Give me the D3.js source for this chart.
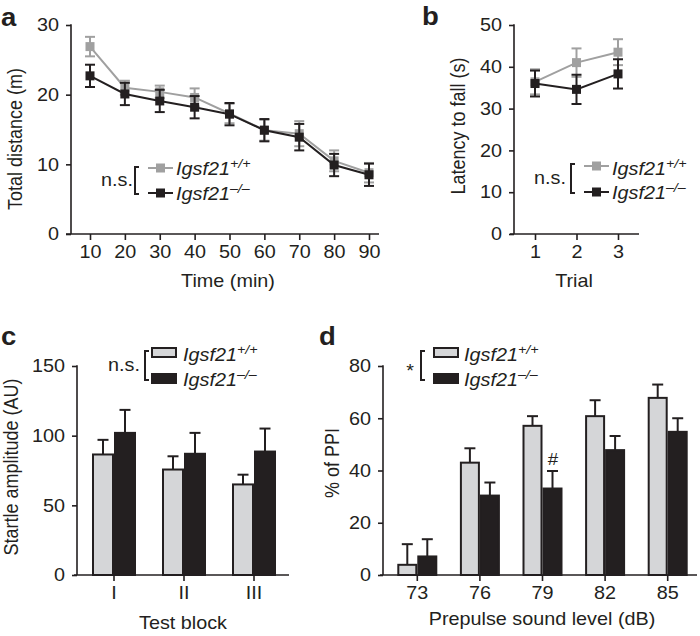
<!DOCTYPE html>
<html>
<head>
<meta charset="utf-8">
<script src="https://cdn.jsdelivr.net/npm/d3@7"></script>
<style>
  body { margin: 0; background: #fff; }
  svg text { font-family: "Liberation Sans", Arial, Helvetica, sans-serif; fill: #231f20; }
</style>
</head>
<body>
<svg id="fig" width="700" height="636"></svg>
<script>
// panel a - open field
const timeMin = [10, 20, 30, 40, 50, 60, 70, 80, 90];
const distWt = [26.9, 21.0, 20.4, 19.6, 17.3, 14.9, 14.4, 10.5, 8.8];
const distWtErr = [1.4, 1.0, 0.9, 1.3, 1.4, 1.5, 1.8, 1.5, 1.4];
const distKo = [22.7, 20.1, 19.1, 18.2, 17.2, 14.9, 13.9, 9.9, 8.5];
const distKoErr = [1.6, 1.6, 1.6, 1.6, 1.6, 1.6, 1.9, 1.6, 1.6];
const distTicks = [0, 10, 20, 30];

// panel b - rotarod
const trials = [1, 2, 3];
const latWt = [36.4, 41.0, 43.5];
const latWtErr = [3.0, 3.4, 3.1];
const latKo = [36.0, 34.6, 38.3];
const latKoErr = [3.1, 3.5, 3.5];
const latTicks = [0, 10, 20, 30, 40, 50];

// panel c - startle
const blocks = ["I", "II", "III"];
const startleWt = [86.5, 75.7, 65.0];
const startleWtErr = [10.5, 9.5, 7.0];
const startleKo = [102.0, 87.0, 88.6];
const startleKoErr = [16.5, 15.0, 16.5];
const startleTicks = [0, 50, 100, 150];

// panel d - prepulse inhibition
const levels = ["73", "76", "79", "82", "85"];
const ppiWt = [3.9, 43.0, 57.1, 60.8, 67.8];
const ppiWtErr = [7.9, 5.5, 3.7, 6.1, 5.1];
const ppiKo = [7.1, 30.4, 33.1, 47.8, 54.8];
const ppiKoErr = [6.6, 5.0, 6.7, 5.4, 5.2];
const ppiTicks = [0, 20, 40, 60, 80];

const ink = "#231f20",
  greyLine = "#a0a0a0",
  greyFill = "#d5d6d8";
const SX = 1.1, // text is a bit wide in the figure
  fs = 18;

const svg = d3.select("#fig");

function label(x, y, str, size, anchor, weight) {
  return svg
    .append("text")
    .attr("transform", `translate(${x},${y}) scale(${SX},1)`)
    .attr("text-anchor", anchor || "start")
    .style("font-size", size + "px")
    .style("font-weight", weight || "normal")
    .text(str);
}

function yTitle(x, y, str) {
  svg
    .append("text")
    .attr("transform", `translate(${x},${y}) rotate(-90) scale(1,${SX})`)
    .attr("text-anchor", "middle")
    .attr("dominant-baseline", "central")
    .style("font-size", fs + "px")
    .text(str);
}

function hline(x1, x2, y) {
  svg.append("line").attr("x1", x1).attr("x2", x2).attr("y1", y).attr("y2", y)
    .attr("stroke", ink).attr("stroke-width", 1.6);
}
function vline(x, y1, y2) {
  svg.append("line").attr("x1", x).attr("x2", x).attr("y1", y1).attr("y2", y2)
    .attr("stroke", ink).attr("stroke-width", 1.6);
}

function styleAxis(g) {
  g.select(".domain").remove();
  g.selectAll("line").attr("stroke", ink).attr("stroke-width", 1.6);
  g.selectAll("text")
    .attr("fill", ink)
    .style("font-size", fs + "px")
    .style("font-family", "'Liberation Sans', Arial, sans-serif")
    .attr("transform", `scale(${SX},1)`);
}

function axes(xAxis, y, yTicks, x0, x1, yAxisX, yTop, yBot) {
  svg.append("g")
    .attr("transform", `translate(0,${yBot})`)
    .call(xAxis.tickSize(6).tickPadding(5).tickSizeOuter(0))
    .call(styleAxis);
  svg.append("g")
    .attr("transform", `translate(${yAxisX},0)`)
    .call(d3.axisLeft(y).tickValues(yTicks).tickSize(5).tickPadding(6))
    .call(styleAxis);
  hline(x0, x1, yBot);
  vline(yAxisX, yTop - 0.8, yBot);
}

// legend bits
function legendName(x, y, sup) {
  const t = label(x, y, "", fs, "start").style("font-style", "italic");
  t.append("tspan").text("Igsf21");
  t.append("tspan").attr("dy", -7).style("font-size", "13px").text(sup);
}
function bracket(x, y1, y2) {
  svg.append("path")
    .attr("d", `M${x + 4},${y1}H${x}V${y2}H${x + 4}`)
    .attr("fill", "none").attr("stroke", ink).attr("stroke-width", 2);
}
function lineKey(x, y, color) {
  svg.append("line").attr("x1", x).attr("x2", x + 25).attr("y1", y).attr("y2", y)
    .attr("stroke", color).attr("stroke-width", 2);
  svg.append("rect").attr("x", x + 8).attr("y", y - 4.5).attr("width", 9).attr("height", 9)
    .attr("fill", color);
}
function boxKey(x, y, fill) {
  svg.append("rect").attr("x", x + 1).attr("y", y - 4).attr("width", 24).attr("height", 9)
    .attr("fill", fill).attr("stroke", ink).attr("stroke-width", 2);
}

// line + error bar series
function series(x, y, xs, vals, errs, color) {
  const pts = xs.map((d, i) => ({ x: d, v: vals[i], e: errs[i] }));
  svg.append("path")
    .datum(pts)
    .attr("fill", "none")
    .attr("stroke", color)
    .attr("stroke-width", 2)
    .attr("d", d3.line().x((d) => x(d.x)).y((d) => y(d.v)));
  const eb = svg.append("g").selectAll("g").data(pts).enter().append("g")
    .attr("stroke", color).attr("stroke-width", 2);
  eb.append("line")
    .attr("x1", (d) => x(d.x)).attr("x2", (d) => x(d.x))
    .attr("y1", (d) => y(d.v - d.e)).attr("y2", (d) => y(d.v + d.e));
  eb.append("line")
    .attr("x1", (d) => x(d.x) - 5).attr("x2", (d) => x(d.x) + 5)
    .attr("y1", (d) => y(d.v + d.e)).attr("y2", (d) => y(d.v + d.e));
  eb.append("line")
    .attr("x1", (d) => x(d.x) - 5).attr("x2", (d) => x(d.x) + 5)
    .attr("y1", (d) => y(d.v - d.e)).attr("y2", (d) => y(d.v - d.e));
  svg.append("g").selectAll("rect").data(pts).enter().append("rect")
    .attr("x", (d) => x(d.x) - 4.5)
    .attr("y", (d) => y(d.v) - 4.5)
    .attr("width", 9).attr("height", 9)
    .attr("fill", color);
}

// grouped bars with upward error bars
function bars(x0, x1, y, cats, wt, wtErr, ko, koErr) {
  const rows = [];
  cats.forEach((c, i) => {
    rows.push({ c, k: "wt", v: wt[i], e: wtErr[i] });
    rows.push({ c, k: "ko", v: ko[i], e: koErr[i] });
  });
  const bx = (d) => x0(d.c) + x0.bandwidth() / 2 + x1(d.k) + x1.bandwidth() / 2;
  const eb = svg.append("g").selectAll("g").data(rows).enter().append("g")
    .attr("stroke", ink).attr("stroke-width", 2);
  eb.append("line")
    .attr("x1", bx).attr("x2", bx)
    .attr("y1", (d) => y(d.v)).attr("y2", (d) => y(d.v + d.e));
  eb.append("line")
    .attr("x1", (d) => bx(d) - 5.5).attr("x2", (d) => bx(d) + 5.5)
    .attr("y1", (d) => y(d.v + d.e)).attr("y2", (d) => y(d.v + d.e));
  svg.append("g").selectAll("rect").data(rows).enter().append("rect")
    .attr("x", (d) => x0(d.c) + x0.bandwidth() / 2 + x1(d.k) + 1)
    .attr("y", (d) => y(d.v))
    .attr("width", x1.bandwidth() - 2)
    .attr("height", (d) => y(0) - y(d.v))
    .attr("fill", (d) => (d.k === "wt" ? greyFill : ink))
    .attr("stroke", ink)
    .attr("stroke-width", 2);
}

// ---- a ----
{
  const x = d3.scaleLinear().domain([10, 90]).range([90, 369]);
  const y = d3.scaleLinear().domain([0, 30]).range([234, 25]);
  axes(d3.axisBottom(x).tickValues(timeMin), y, distTicks, 66, 379, 71, 25, 234);
  series(x, y, timeMin, distWt, distWtErr, greyLine);
  series(x, y, timeMin, distKo, distKoErr, ink);
  yTitle(15, 139, "Total distance (m)");
  label(228, 287, "Time (min)", fs, "middle");
  label(117, 186, "n.s.", fs, "middle");
  bracket(135, 167, 194);
  lineKey(148, 168, greyLine);
  lineKey(148, 193, ink);
  legendName(176, 175, "+/+");
  legendName(176, 200, "\u2013/\u2013");
  label(1, 26, "a", 25, "start", "bold");
}

// ---- b ----
{
  const x = d3.scaleLinear().domain([1, 3]).range([535, 618]);
  const y = d3.scaleLinear().domain([0, 50]).range([234, 25]);
  axes(d3.axisBottom(x).tickValues(trials).tickFormat(d3.format("d")), y, latTicks, 510, 639, 514, 25, 234);
  series(x, y, trials, latWt, latWtErr, greyLine);
  series(x, y, trials, latKo, latKoErr, ink);
  yTitle(458, 126, "Latency to fall (s)");
  label(574, 287, "Trial", fs, "middle");
  label(550, 184, "n.s.", fs, "middle");
  bracket(571, 164, 193);
  lineKey(584, 166, greyLine);
  lineKey(584, 192, ink);
  legendName(612, 175, "+/+");
  legendName(612, 199, "\u2013/\u2013");
  label(422, 25, "b", 25, "start", "bold");
}

// ---- c ----
{
  const x0 = d3.scaleBand().domain(blocks).range([79, 289]);
  const x1 = d3.scaleBand().domain(["wt", "ko"]).range([-22, 22]);
  const y = d3.scaleLinear().domain([0, 150]).range([575, 366]);
  bars(x0, x1, y, blocks, startleWt, startleWtErr, startleKo, startleKoErr);
  axes(d3.axisBottom(x0), y, startleTicks, 74, 289, 77, 366, 575);
  yTitle(11, 467, "Startle amplitude (AU)");
  label(183, 629, "Test block", fs, "middle");
  label(124, 371, "n.s.", fs, "middle");
  bracket(145, 351, 380);
  boxKey(151, 352, greyFill);
  boxKey(151, 378, ink);
  legendName(183, 361, "+/+");
  legendName(183, 386, "\u2013/\u2013");
  label(1, 345, "c", 25, "start", "bold");
}

// ---- d ----
{
  const x0 = d3.scaleBand().domain(levels).range([386, 699]);
  const x1 = d3.scaleBand().domain(["wt", "ko"]).range([-20, 20]);
  const y = d3.scaleLinear().domain([0, 80]).range([575, 366]);
  bars(x0, x1, y, levels, ppiWt, ppiWtErr, ppiKo, ppiKoErr);
  axes(d3.axisBottom(x0), y, ppiTicks, 380, 697, 383, 366, 575);
  yTitle(332, 463, "% of PPI");
  label(542, 625, "Prepulse sound level (dB)", fs, "middle");
  label(410, 377, "*", fs, "middle");
  bracket(421, 351, 380);
  boxKey(433, 352, greyFill);
  boxKey(433, 378, ink);
  legendName(464, 361, "+/+");
  legendName(464, 386, "\u2013/\u2013");
  label(553, 465, "#", 17, "middle");
  label(319, 345, "d", 25, "start", "bold");
}
</script>
</body>
</html>
